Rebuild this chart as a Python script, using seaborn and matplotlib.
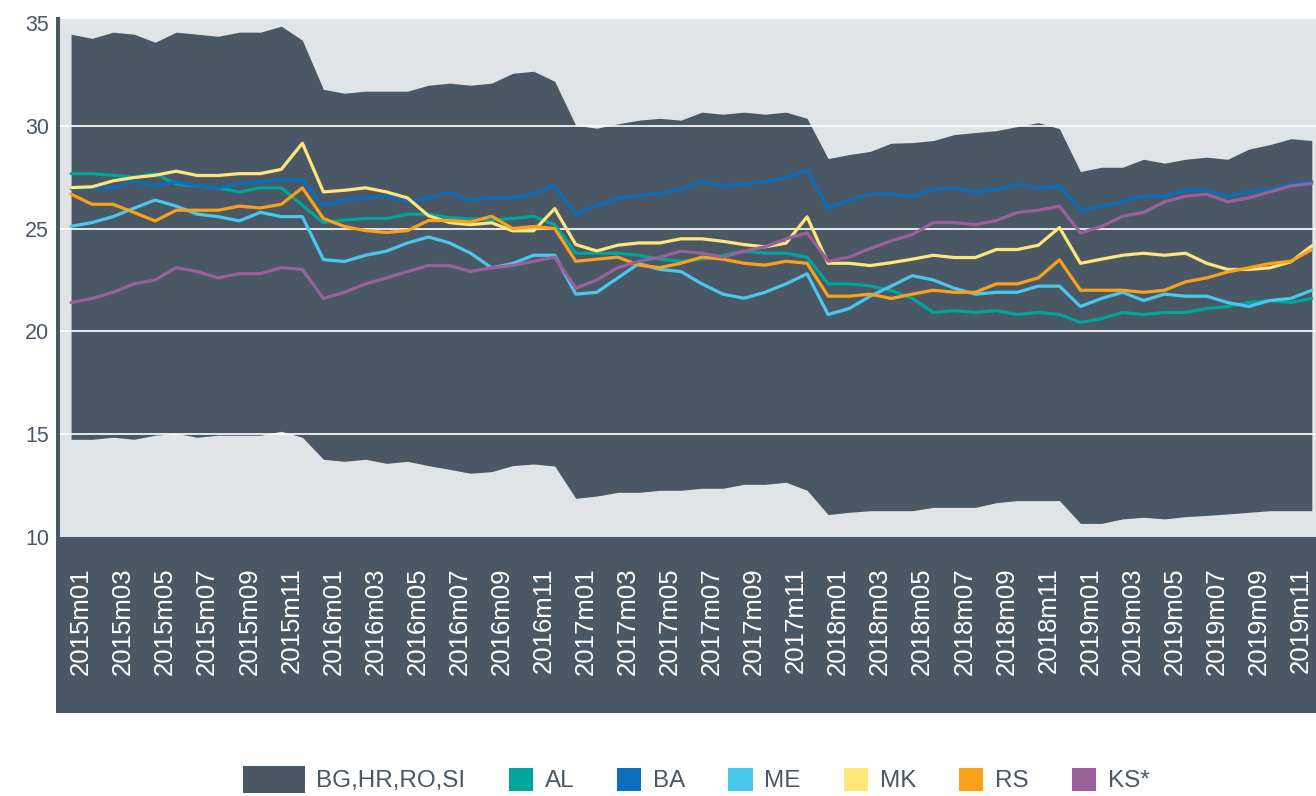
import matplotlib
matplotlib.use("Agg")
import matplotlib.pyplot as plt
import matplotlib.patches as mpatches
from matplotlib.legend_handler import HandlerPatch
from matplotlib.transforms import ScaledTranslation
import pandas as pd
import seaborn as sns

DARK = "#4a5866"
LIGHT = "#e1e4e7"
FONT = ["Liberation Sans", "DejaVu Sans"]

months = [f"{y}m{m:02d}" for y in range(2015, 2020) for m in range(1, 13)]

# min / max band of BG, HR, RO, SI
range_low = [
    14.75, 14.75, 14.85, 14.75, 14.95, 15.04, 14.85, 14.95, 14.95, 14.95,
    15.14, 14.85, 13.78, 13.68, 13.78, 13.58, 13.68, 13.47, 13.29, 13.10,
    13.18, 13.47, 13.55, 13.45, 11.88, 11.99, 12.17, 12.17, 12.27, 12.27,
    12.37, 12.37, 12.56, 12.56, 12.66, 12.27, 11.09, 11.20, 11.28, 11.28,
    11.28, 11.44, 11.44, 11.44, 11.67, 11.77, 11.77, 11.77, 10.66, 10.66,
    10.88, 10.96, 10.88, 10.99, 11.05, 11.12, 11.20, 11.28, 11.28, 11.28,
]
range_high = [
    34.45, 34.25, 34.55, 34.45, 34.06, 34.55, 34.45, 34.35, 34.55, 34.55,
    34.84, 34.16, 31.77, 31.58, 31.68, 31.68, 31.68, 31.97, 32.07, 31.97,
    32.07, 32.55, 32.65, 32.16, 30.02, 29.88, 30.09, 30.27, 30.36, 30.27,
    30.66, 30.56, 30.66, 30.56, 30.66, 30.36, 28.40, 28.60, 28.75, 29.15,
    29.18, 29.28, 29.57, 29.67, 29.76, 29.96, 30.15, 29.86, 27.77, 27.98,
    27.98, 28.37, 28.18, 28.37, 28.47, 28.37, 28.86, 29.08, 29.37, 29.28,
]

al = [
    27.67, 27.67, 27.59, 27.50, 27.67, 27.17, 27.07, 26.98, 26.78, 26.98,
    26.98, 26.13, 25.29, 25.41, 25.49, 25.49, 25.70, 25.70, 25.52, 25.47,
    25.41, 25.49, 25.60, 25.19, 23.80, 23.80, 23.80, 23.70, 23.51, 23.41,
    23.51, 23.70, 23.90, 23.80, 23.80, 23.61, 22.31, 22.31, 22.21, 21.99,
    21.60, 20.92, 21.01, 20.92, 21.01, 20.82, 20.92, 20.82, 20.43, 20.62,
    20.92, 20.82, 20.92, 20.92, 21.11, 21.21, 21.40, 21.50, 21.40, 21.60,
]
ba = [
    26.94, 26.98, 26.99, 27.27, 27.07, 27.27, 27.07, 26.98, 27.17, 27.27,
    27.37, 27.37, 26.10, 26.38, 26.49, 26.57, 26.30, 26.49, 26.75, 26.38,
    26.49, 26.49, 26.70, 27.07, 25.70, 26.10, 26.49, 26.59, 26.70, 26.90,
    27.27, 27.07, 27.17, 27.27, 27.48, 27.85, 26.00, 26.38, 26.67, 26.67,
    26.57, 26.90, 26.98, 26.78, 26.90, 27.16, 26.98, 27.07, 25.89, 26.09,
    26.30, 26.57, 26.57, 26.86, 26.86, 26.57, 26.78, 26.90, 27.16, 27.27,
]
me = [
    25.11, 25.29, 25.58, 25.99, 26.39, 26.09, 25.70, 25.58, 25.37, 25.79,
    25.58, 25.58, 23.49, 23.40, 23.70, 23.90, 24.30, 24.59, 24.30, 23.80,
    23.09, 23.30, 23.70, 23.70, 21.81, 21.90, 22.60, 23.30, 23.01, 22.91,
    22.31, 21.81, 21.61, 21.90, 22.31, 22.80, 20.82, 21.11, 21.71, 22.20,
    22.71, 22.50, 22.10, 21.81, 21.90, 21.90, 22.20, 22.20, 21.21, 21.60,
    21.90, 21.50, 21.81, 21.71, 21.71, 21.40, 21.21, 21.50, 21.60, 22.00,
]
mk = [
    26.99, 27.03, 27.32, 27.48, 27.59, 27.79, 27.58, 27.58, 27.67, 27.67,
    27.88, 29.15, 26.78, 26.86, 26.98, 26.78, 26.49, 25.62, 25.29, 25.19,
    25.28, 24.89, 24.89, 25.97, 24.22, 23.91, 24.19, 24.30, 24.30, 24.50,
    24.50, 24.38, 24.22, 24.11, 24.29, 25.57, 23.31, 23.31, 23.20, 23.34,
    23.51, 23.70, 23.59, 23.59, 23.98, 23.98, 24.19, 25.05, 23.31, 23.51,
    23.70, 23.80, 23.70, 23.80, 23.31, 23.01, 23.01, 23.09, 23.38, 24.16,
]
rs = [
    26.67, 26.18, 26.18, 25.78, 25.37, 25.89, 25.89, 25.89, 26.09, 26.00,
    26.18, 26.98, 25.49, 25.10, 24.90, 24.81, 24.90, 25.39, 25.39, 25.32,
    25.60, 25.00, 25.10, 25.00, 23.41, 23.51, 23.61, 23.22, 23.10, 23.31,
    23.61, 23.51, 23.31, 23.22, 23.41, 23.31, 21.71, 21.71, 21.81, 21.60,
    21.81, 22.00, 21.90, 21.90, 22.31, 22.31, 22.60, 23.48, 22.00, 22.00,
    22.00, 21.90, 22.00, 22.41, 22.60, 22.89, 23.09, 23.30, 23.41, 23.98,
]
ks = [
    21.40, 21.60, 21.90, 22.31, 22.50, 23.10, 22.91, 22.60, 22.81, 22.81,
    23.10, 23.01, 21.60, 21.90, 22.31, 22.60, 22.91, 23.20, 23.20, 22.91,
    23.10, 23.20, 23.41, 23.61, 22.10, 22.50, 23.10, 23.41, 23.61, 23.90,
    23.80, 23.61, 23.90, 24.11, 24.50, 24.79, 23.41, 23.61, 24.03, 24.40,
    24.71, 25.29, 25.29, 25.19, 25.39, 25.78, 25.89, 26.09, 24.79, 25.10,
    25.60, 25.78, 26.30, 26.57, 26.67, 26.30, 26.49, 26.78, 27.07, 27.19,
]

band_label = "BG,HR,RO,SI"
series_names = ["AL", "BA", "ME", "MK", "RS", "KS*"]
series_values = [al, ba, me, mk, rs, ks]
series_colors = ["#00a59b", "#0a6ebd", "#4ac8ec", "#ffe57a", "#f9a11b", "#9b5f9a"]


def wide_box(legend, orig_handle, xdescent, ydescent, width, height, fontsize):
    # first legend key is a bigger block than the others
    extra = 27
    return mpatches.Rectangle(
        (-xdescent - extra, -ydescent - 1.5), width + extra, height + 3
    )


def main():
    sns.set_theme(style="white")

    # long-form table for seaborn
    rows = []
    for name, vals in zip(series_names, series_values):
        for i, v in enumerate(vals):
            rows.append({"idx": i, "value": v, "country": name})
    df = pd.DataFrame(rows)

    fig = plt.figure(figsize=(13.16, 7.96), dpi=100)
    ax = fig.add_axes([58 / 1316, 1 - 537 / 796, 1 - 58 / 1316, (537 - 19) / 796])
    ax.set_facecolor(LIGHT)

    # dark block behind the month labels
    fig.patches.append(
        mpatches.Rectangle(
            (56 / 1316, 1 - 713 / 796), 1 - 56 / 1316, (713 - 537) / 796,
            transform=fig.transFigure, facecolor=DARK, edgecolor="none", zorder=-1,
        )
    )

    x = list(range(len(months)))
    ax.fill_between(x, range_low, range_high, color=DARK, linewidth=0, zorder=1)

    sns.lineplot(
        data=df, x="idx", y="value", hue="country", hue_order=series_names,
        palette=dict(zip(series_names, series_colors)), linewidth=2.3,
        legend=False, ax=ax, zorder=3,
    )

    ax.set_xlim(-0.62, 59.2)
    ax.set_ylim(10, 35.19)
    ax.set_yticks([10, 15, 20, 25, 30, 35])
    ax.set_xticks(x[::2])
    ax.set_xticklabels(months[::2])
    ax.set_xlabel("")
    ax.set_ylabel("")

    ax.set_axisbelow("line")
    ax.grid(axis="y", color="white", linewidth=1.2)
    ax.grid(axis="x", visible=False)
    # no grid line on the frame edges
    ygrid = ax.get_ygridlines()
    ygrid[0].set_visible(False)
    ygrid[-1].set_visible(False)

    for side in ["top", "right", "bottom"]:
        ax.spines[side].set_visible(False)
    ax.spines["left"].set_color(DARK)
    ax.spines["left"].set_linewidth(2.9)

    ax.tick_params(axis="x", length=0, pad=22, labelrotation=90, labelcolor="white")
    ax.tick_params(axis="y", length=0, pad=6.5, labelcolor=DARK)
    offset = ScaledTranslation(10 / 100, 0, fig.dpi_scale_trans)
    for lab in ax.get_xticklabels():
        lab.set_family(FONT)
        lab.set_fontsize(18.5)
        lab.set_transform(lab.get_transform() + offset)
    for lab in ax.get_yticklabels():
        lab.set_family(FONT)
        lab.set_fontsize(15.5)

    handles = [mpatches.Patch(facecolor=DARK, edgecolor="none")]
    handles += [mpatches.Patch(facecolor=c, edgecolor="none") for c in series_colors]
    fig.legend(
        handles, [band_label] + series_names,
        loc="center", bbox_to_anchor=(715 / 1316, 1 - 780 / 796),
        ncol=7, frameon=False,
        prop={"family": FONT, "size": 17.5}, labelcolor=DARK,
        handlelength=0.99, handleheight=1.07, handletextpad=0.49,
        columnspacing=1.77, borderpad=0,
        handler_map={handles[0]: HandlerPatch(patch_func=wide_box)},
    )

    fig.savefig("out.png", dpi=100)


if __name__ == "__main__":
    main()
